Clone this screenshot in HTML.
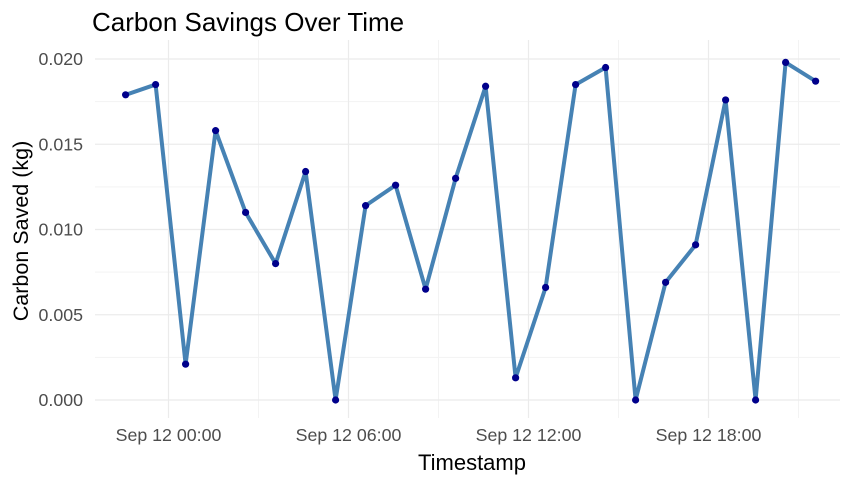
<!DOCTYPE html>
<html><head><meta charset="utf-8"><style>
body{margin:0;background:#fff;}
svg{display:block;font-family:"Liberation Sans",sans-serif;}
</style></head><body>
<svg id="chart" width="862" height="483">
<text x="92" y="31" font-size="26" fill="#000">Carbon Savings Over Time</text>
<g id="grid"></g>
<g id="series"></g>
<g id="axes"></g>
<text x="472" y="470" font-size="22" text-anchor="middle" fill="#000">Timestamp</text>
<text transform="translate(28,231) rotate(-90)" font-size="21.5" text-anchor="middle" fill="#000">Carbon Saved (kg)</text>
</svg>
<script>
const hours = [-1.43,-0.43,0.57,1.57,2.57,3.57,4.57,5.57,6.57,7.57,8.57,9.57,10.57,11.57,12.57,13.57,14.57,15.57,16.57,17.57,18.57,19.57,20.57,21.57];
const values = [0.0179,0.0185,0.0021,0.0158,0.0110,0.0080,0.0134,0.0000,0.0114,0.0126,0.0065,0.0130,0.0184,0.0013,0.0066,0.0185,0.0195,0.0000,0.0069,0.0091,0.0176,0.0000,0.0198,0.0187];
const yTicks = [0,0.005,0.010,0.015,0.020];
const yTickLabels = ["0.000","0.005","0.010","0.015","0.020"];
const xTicks = [0,6,12,18];
const xTickLabels = ["Sep 12 00:00","Sep 12 06:00","Sep 12 12:00","Sep 12 18:00"];
const NS="http://www.w3.org/2000/svg";
const px0=95, px1=840, py0=40, py1=418;
function xs(h){return 168.5+h*30;}
function ys(v){return 400-v*(341/0.02);}
function mk(tag,attrs,parent){const e=document.createElementNS(NS,tag);for(const k in attrs)e.setAttribute(k,attrs[k]);parent.appendChild(e);return e;}
const grid=document.getElementById('grid'),series=document.getElementById('series'),axes=document.getElementById('axes');
for(let i=0;i<yTicks.length-1;i++){const v=(yTicks[i]+yTicks[i+1])/2;
 const l=mk('line',{x1:px0,x2:px1,y1:ys(v),y2:ys(v),stroke:'#f3f3f3','stroke-width':1},grid);
 
 }
for(let i=-1;i<xTicks.length;i++){const h=(i<0?xTicks[0]-3:xTicks[i]+3);const x=xs(h);if(x<px0||x>px1)continue;
 const l=mk('line',{x1:x,x2:x,y1:py0,y2:py1,stroke:'#f3f3f3','stroke-width':1},grid);
 
 }
yTicks.forEach((v,i)=>{const y=ys(v);
 const l=mk('line',{x1:px0,x2:px1,y1:y,y2:y,stroke:'#ebebeb','stroke-width':1.2},grid);
 
 
 const t=mk('text',{x:83,y:y+6,'font-size':17.8,'text-anchor':'end',fill:'#4d4d4d'},axes);t.textContent=yTickLabels[i];
 
 });
xTicks.forEach((h,i)=>{const x=xs(h);
 const l=mk('line',{x1:x,x2:x,y1:py0,y2:py1,stroke:'#ebebeb','stroke-width':1.2},grid);
 
 
 const t=mk('text',{x:x,y:441,'font-size':17.8,'text-anchor':'middle',fill:'#4d4d4d'},axes);t.textContent=xTickLabels[i];
 
 });
const pts=hours.map((h,i)=>xs(h)+','+ys(values[i])).join(' ');
const pl=mk('polyline',{points:pts,fill:'none',stroke:'#4682b4','stroke-width':4,'stroke-linejoin':'round'},series);


hours.forEach((h,i)=>{const c=mk('circle',{cx:xs(h),cy:ys(values[i]),r:3.6,fill:'#00008b'},series);
 
 });
</script>
</body></html>
